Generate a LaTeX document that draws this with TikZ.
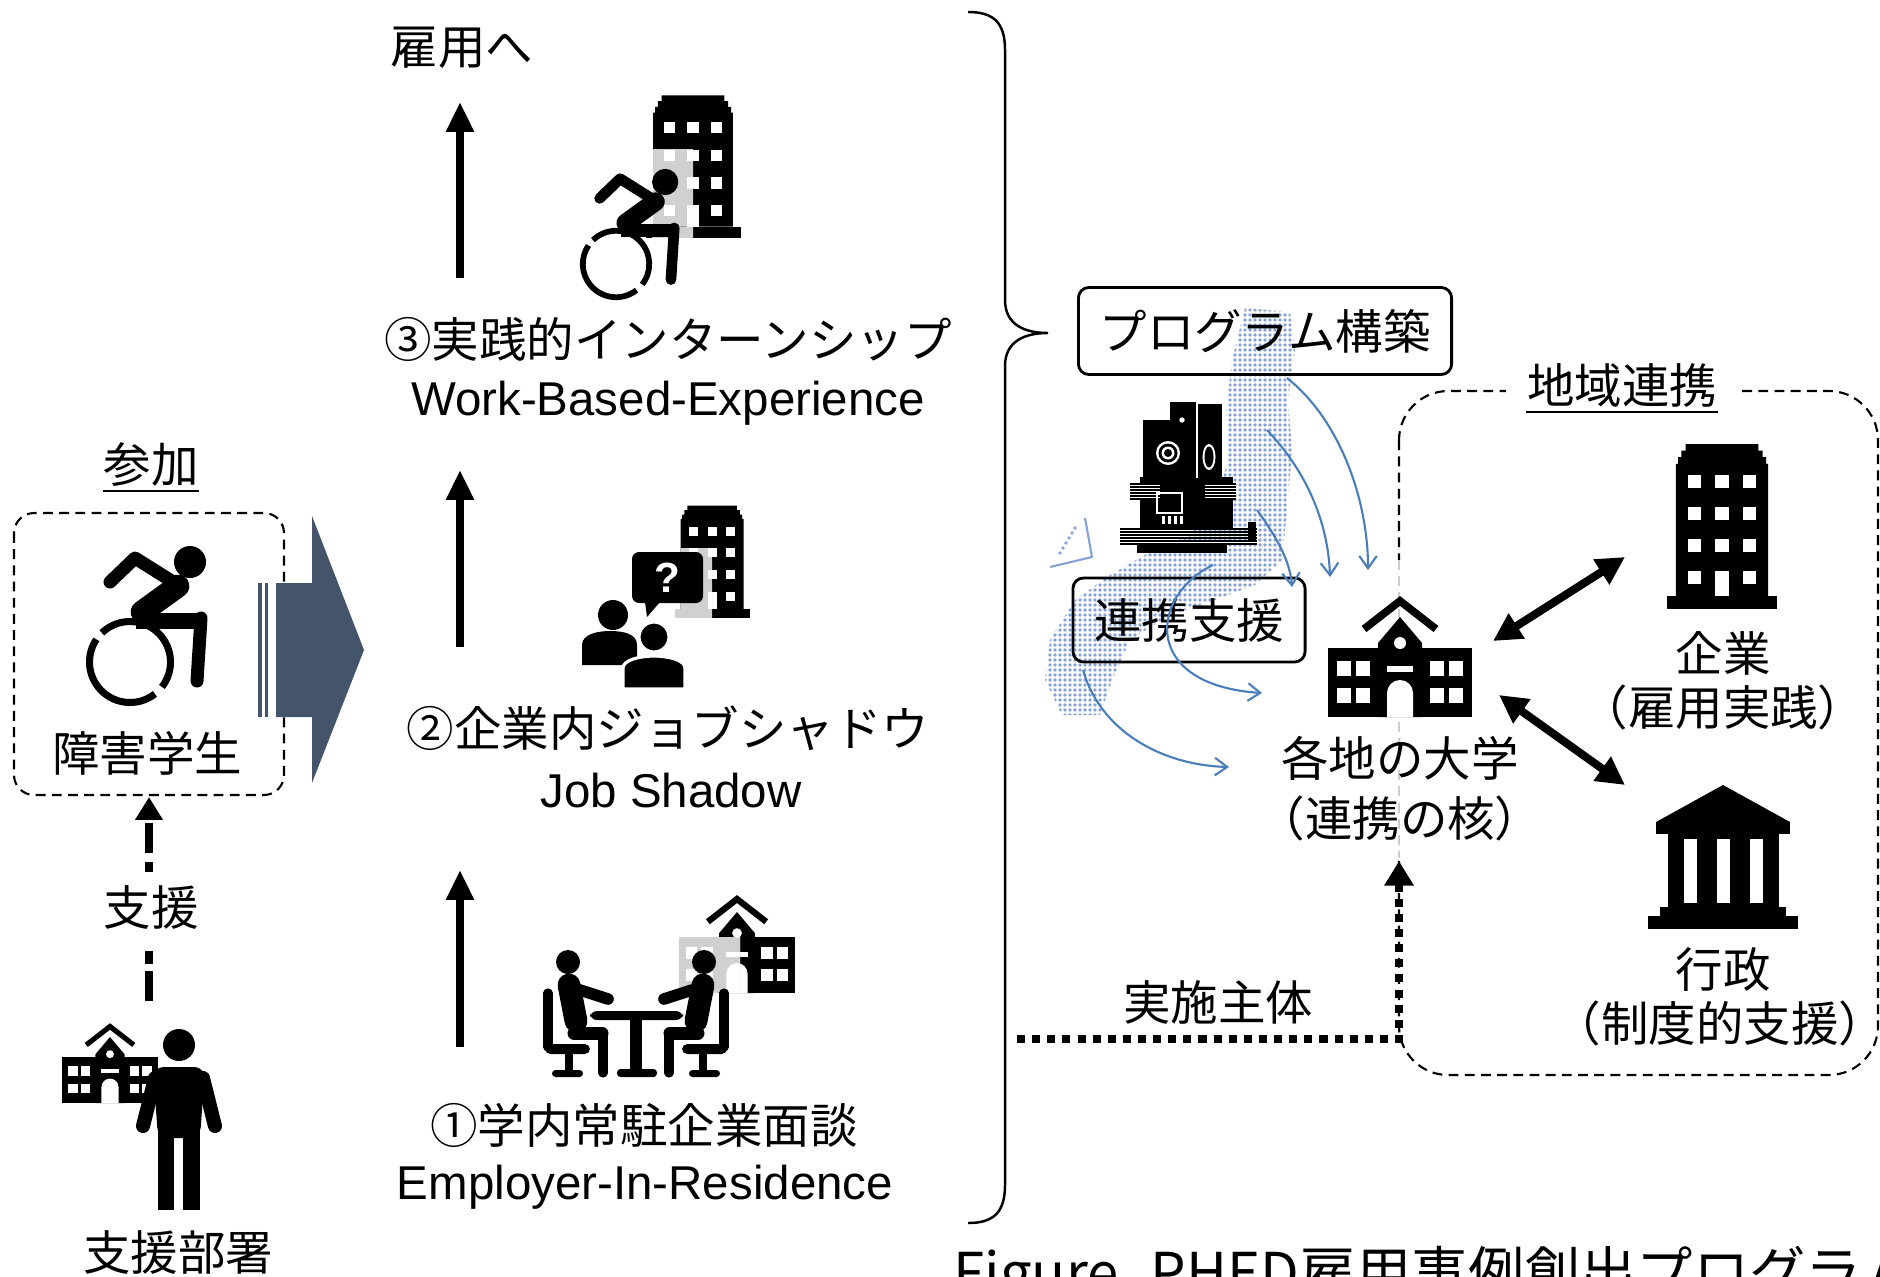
\documentclass[tikz,border=0pt]{standalone}
\usepackage{fontspec}
\setmainfont{Liberation Sans}
\newfontfamily\jp{Noto Sans CJK JP}[RawFeature={+halt}]
\usetikzlibrary{arrows.meta}

\definecolor{slate}{HTML}{44546A}
\definecolor{mapdot}{HTML}{86A1D8}
\definecolor{linkblue}{HTML}{4A7EBB}
\definecolor{shade}{HTML}{D0D0D0}
\colorlet{bodycol}{black}

% icons, drawn in pixel units, the argument scales them
\tikzset{
	pics/wheelchair/.style={code={
		\begin{scope}[scale=#1]
			\draw[line width=#1*2pt] (52:40.5) arc[start angle=52, end angle=214, radius=40.5];
			\draw[line width=#1*2pt] (226:40.5) arc[start angle=226, end angle=398, radius=40.5];
			\fill (60,-100) circle (16);
			\draw[line width=#1*3.7pt, line cap=round, line join=round] (-20,-80) -- (5,-104) -- (48,-77);
			\draw[line width=#1*6.5pt, line cap=round] (48,-76) -- (12,-50);
			\draw[line width=#1*4.5pt] (6,-41) -- (74,-41);
			\draw[line width=#1*3.7pt, line cap=round] (71,-44) -- (67,19);
		\end{scope}}},
	pics/office/.style={code={
		\begin{scope}[scale=#1]
			\fill[bodycol] (-50,-12) rectangle (50,0);
			\fill[bodycol] (-42,-12) -- (-42,-132) -- (-40,-132) -- (-40,-138) -- (-37,-138)
				-- (-37,-144) -- (-33,-144) -- (-33,-150) -- (33,-150) -- (33,-144) -- (37,-144)
				-- (37,-138) -- (40,-138) -- (40,-132) -- (42,-132) -- (42,-12) -- cycle;
			\foreach \wx in {-25,0,25}
				\foreach \wy in {-116,-87,-58}
					\fill[white] (\wx-6,\wy-6) rectangle (\wx+6,\wy+6);
			\foreach \wx in {-25,25}
				\fill[white] (\wx-6,-35) rectangle (\wx+6,-23);
			\fill[white] (-6,-35) rectangle (6,-12);
		\end{scope}}},
	pics/school/.style={code={
		\begin{scope}[scale=#1]
			\fill[bodycol] (-72,-69) rectangle (72,0);
			\fill[bodycol] (-22,0) -- (-22,-74) -- (0,-100) -- (22,-74) -- (22,0) -- cycle;
			\draw[bodycol, line width=#1*2.2pt] (-36,-88) -- (0,-116) -- (36,-88);
			\foreach \wx in {-56,-37,37,56}
				\foreach \wy in {-49,-22}
					\fill[white] (\wx-7,\wy-7.5) rectangle (\wx+7,\wy+7.5);
			\fill[white] (0,-74) circle (6);
			\fill[white] (-13,-51) rectangle (13,-45);
			\fill[white] (-13,0) -- (-13,-24) arc[start angle=180, end angle=360, radius=13] -- (13,0) -- cycle;
		\end{scope}}},
	pics/person/.style={code={
		\begin{scope}[scale=#1]
			\fill (0,-165) circle (16);
			\fill[rounded corners=#1*3pt] (-21,-72) -- (-26,-143) -- (26,-143) -- (21,-72) -- cycle;
			\draw[line width=#1*4pt, line cap=round] (-24,-132) -- (-36,-84);
			\draw[line width=#1*4pt, line cap=round] (24,-132) -- (36,-84);
			\fill (-21,-80) rectangle (-5,0);
			\fill (4,-80) rectangle (21,0);
		\end{scope}}},
}

\begin{document}
\begin{tikzpicture}[x=0.01cm, y=-0.01cm,
		jtext/.style={inner sep=0pt, font=\jp\fontsize{13.5pt}{16pt}\selectfont},
		etext/.style={inner sep=0pt, font=\fontsize{13.5pt}{16pt}\selectfont},
		tagbox/.style={jtext, draw, line width=0.8pt, rounded corners=3pt},
		dashbox/.style={line width=0.6pt, dash pattern=on 2.8pt off 1.8pt, rounded corners=#1},
		stepup/.style={line width=2.5pt, -{Triangle[length=8.5pt, width=7.5pt]}},
		helpline/.style={line width=2.5pt, dash pattern=on 8.5pt off 2pt on 3.7pt off 2pt},
		helpup/.style={line width=2.5pt, dash pattern=on 2.8pt off 2.5pt on 8.5pt off 2.5pt,
			-{Triangle[length=6.5pt, width=7.5pt]}},
		runline/.style={line width=2.3pt, dash pattern=on 2.3pt off 2pt,
			-{Triangle[length=7pt, width=8pt]}},
		linkboth/.style={line width=2.3pt, {Triangle[length=8pt, width=8pt]}-{Triangle[length=8pt, width=8pt]}},
		spread/.style={linkblue, line width=0.6pt, -{Straight Barb[length=3.5pt, width=5pt]}}]

	\useasboundingbox (0,0) rectangle (1880,1276);
	\clip (0,0) rectangle (1880,1276);

	% participant
	\draw[dashbox=5.7pt] (14,513) rectangle (284,795);
	\node[jtext] (sanka) at (151,465) {参加};
	\draw[line width=0.6pt] ([yshift=-1pt]sanka.south west) -- ([yshift=-1pt]sanka.south east);
	\pic at (130,662) {wheelchair=1};
	\node[jtext] (student) at (147,753) {障害学生};

	% block arrow into the program
	\fill[slate] (258,583) rectangle (262,717);
	\fill[slate] (265,583) rectangle (268,717);
	\fill[slate] (276,583) -- (312,583) -- (312,516) -- (364,650) -- (312,783) -- (312,717) -- (276,717) -- cycle;

	% support office
	\pic at (110,1103) {school=0.66};
	\pic at (179,1210) {person=1};
	\node[jtext] (dept) at (178,1253) {支援部署};
	\node[jtext] (shien) at (151,908) {支援};
	\coordinate (deptTop) at (149,1001);
	\coordinate (helpLow) at (149,950);
	\coordinate (helpUp) at (149,872);
	\coordinate (boxBot) at (149,797);
	\draw[helpline] (deptTop) -- (helpLow);
	\draw[helpup] (helpUp) -- (boxBot);

	% three steps
	\node[jtext] (koyou) at (462,48) {雇用へ};

	\pic at (693,238) {office=0.95};
	\begin{scope}
		\clip (652,150) rectangle (693,245);
		\colorlet{bodycol}{shade}
		\pic at (693,238) {office=0.95};
	\end{scope}
	\pic at (616,264) {wheelchair=0.82};
	\node[jtext] (step3) at (668,339) {③実践的インターンシップ};
	\node[etext] (step3en) at (668,403) {Work-Based-Experience};

	\pic at (712,618) {office=0.75};
	\begin{scope}
		\clip (660,548) rectangle (712,625);
		\colorlet{bodycol}{shade}
		\pic at (712,618) {office=0.75};
	\end{scope}
	\fill[rounded corners=2pt] (632,552) rectangle (703,603);
	\fill (645,602) -- (647,617) -- (660,602) -- cycle;
	\node[text=white, inner sep=0pt, font=\bfseries\fontsize{12pt}{14pt}\selectfont] (ask) at (667,578) {?};
	\fill (613,615) circle (15);
	\fill (582,665) -- (582,645) .. controls (582,634) and (598,631) .. (610,631)
		.. controls (624,631) and (637,634) .. (637,645) -- (637,665) -- cycle;
	\filldraw[draw=white, line width=0.9pt] (654,637) circle (15);
	\filldraw[draw=white, line width=0.9pt] (623,689) -- (623,668) .. controls (623,660) and (640,656) .. (654,656)
		.. controls (668,656) and (685,660) .. (685,668) -- (685,689) -- cycle;
	\node[jtext] (step2) at (668,728) {②企業内ジョブシャドウ};
	\node[etext] (step2en) at (671,791) {Job Shadow};

	\pic at (737,993) {school=0.81};
	\begin{scope}
		\clip (670,937) rectangle (740,1000);
		\colorlet{bodycol}{shade}
		\pic at (737,993) {school=0.81};
	\end{scope}
	\begin{scope}[shift={(636,1077)}]
		\foreach \side in {1,-1} {
			\begin{scope}[xscale=\side]
				\fill (-68,-115) circle (12);
				\draw[line width=6.5pt, line cap=round] (-67,-92) -- (-60,-56);
				\draw[line width=3.3pt, line cap=round] (-56,-87) -- (-28,-78);
				\draw[line width=3.7pt, line cap=round] (-62,-44) -- (-34,-44);
				\draw[line width=2.6pt, line cap=round] (-33,-44) -- (-33,-4);
				\draw[line width=2.6pt, line cap=round] (-88,-84) -- (-88,-30);
				\fill[rounded corners=1.5pt] (-91,-33) rectangle (-46,-23);
				\fill (-71,-24) rectangle (-63,-6);
				\fill[rounded corners=1pt] (-84,-7) rectangle (-53,0);
			\end{scope}
		}
		\fill[rounded corners=2pt] (-46,-66) rectangle (47,-57);
		\fill (-6,-58) rectangle (6,-6);
		\fill[rounded corners=1pt] (-19,-8) rectangle (21,0);
	\end{scope}
	\node[jtext] (step1) at (644,1125) {①学内常駐企業面談};
	\node[etext] (step1en) at (645,1187) {Employer-In-Residence};

	\coordinate (a3top) at (460,102);  \coordinate (a3bot) at (460,278);
	\coordinate (a2top) at (460,470);  \coordinate (a2bot) at (460,647);
	\coordinate (a1top) at (460,870);  \coordinate (a1bot) at (460,1047);
	\draw[stepup] (a3bot) -- (a3top);
	\draw[stepup] (a2bot) -- (a2top);
	\draw[stepup] (a1bot) -- (a1top);

	% brace
	\coordinate (brTop) at (968,12);
	\draw[line width=0.7pt] (brTop) .. controls (993,12) and (1005,22) .. (1005,50) -- (1005,300)
		.. controls (1005,325) and (1025,333) .. (1048,333)
		.. controls (1025,333) and (1005,341) .. (1005,366) -- (1005,1185)
		.. controls (1005,1213) and (993,1223) .. (968,1223);

	% dotted map
	\begin{scope}
		\clip (1245,308) -- (1290,312) -- (1295,350) -- (1288,400) -- (1292,450) -- (1287,510)
			-- (1282,560) -- (1255,585) -- (1215,600) -- (1170,615) -- (1130,640) -- (1112,680)
			-- (1100,715) -- (1062,715) -- (1045,680) -- (1050,640) -- (1075,600) -- (1110,575)
			-- (1150,552) -- (1190,535) -- (1215,505) -- (1228,460) -- (1226,410) -- (1232,360) -- cycle;
		\foreach \my in {305,310,...,720}
			\fill[mapdot] \foreach \mx in {1040,1045,...,1295} {(\mx,\my) circle (1.9)};
	\end{scope}
	\draw[mapdot, line width=0.6pt] (1050,567) -- (1092,557) -- (1085,518);
	\foreach \k in {0,...,5}
		\fill[mapdot] (1060+3*\k,553-5*\k) circle (1.9);

	% clock tower
	\fill (1143,420) rectangle (1173,480);
	\fill (1170,402) rectangle (1196,480);
	\fill (1198,404) rectangle (1222,480);
	\fill (1140,477) rectangle (1233,530);
	\fill (1137,543) rectangle (1227,553);
	\foreach \cy in {529,532,...,544}
		\draw[line width=0.5pt] (1120,\cy) -- (1257,\cy);
	\fill[white] (1130,483) rectangle (1160,500);
	\fill[white] (1205,483) rectangle (1236,500);
	\foreach \cy in {484,487,...,499} {
		\draw[line width=0.5pt] (1130,\cy) -- (1160,\cy);
		\draw[line width=0.5pt] (1205,\cy) -- (1236,\cy);
	}
	\fill[white] (1168,453) circle (12);
	\fill (1168,453) circle (9.5);
	\fill[white] (1168,453) circle (6.5);
	\fill (1168,453) circle (4);
	\fill[white] (1209,457) ellipse [x radius=6.5, y radius=13];
	\fill (1209,457) ellipse [x radius=4.5, y radius=10.5];
	\fill[white] (1182,420) circle (2.7);
	\draw[white, line width=0.6pt] (1197,404) -- (1197,478);
	\draw[white, line width=0.8pt] (1157,493) rectangle (1182,513);
	\foreach \wx in {1162,1168,1174,1180}
		\fill[white] (\wx,516) rectangle (\wx+3,524);
	\fill (1248,522) rectangle (1256,540);

	\node[tagbox, minimum width=3.73cm, minimum height=0.87cm] (plan) at (1265,331) {プログラム構築};
	\node[tagbox, minimum width=2.32cm, minimum height=0.84cm] (assist) at (1189,620) {連携支援};

	\coordinate (m1s) at (1287,378); \coordinate (m1e) at (1368,570);
	\coordinate (m2s) at (1267,430); \coordinate (m2e) at (1330,577);
	\coordinate (m3s) at (1257,510); \coordinate (m3e) at (1292,587);
	\coordinate (m4s) at (1213,565); \coordinate (m4e) at (1262,693);
	\coordinate (m5s) at (1083,670); \coordinate (m5e) at (1229,767);
	\draw[spread] (m1s) .. controls (1340,420) and (1368,500) .. (m1e);
	\draw[spread] (m2s) .. controls (1305,470) and (1328,520) .. (m2e);
	\draw[spread] (m3s) .. controls (1275,535) and (1290,560) .. (m3e);
	\draw[spread] (m4s) .. controls (1150,595) and (1140,685) .. (m4e);
	\draw[spread] (m5s) .. controls (1100,730) and (1160,765) .. (m5e);

	% regional network
	\draw[dashbox=14pt] (1399,391) rectangle (1878,1075);
	\draw[white, line width=1pt] (1399,560) -- (1399,858);
	\draw[gray!40, line width=0.6pt, dash pattern=on 2.8pt off 1.8pt] (1399,560) -- (1399,858);
	\node[jtext, fill=white, inner xsep=6pt] (chiiki) at (1622,386) {地域連携};
	\draw[line width=0.6pt] ([xshift=6pt,yshift=-1pt]chiiki.south west) -- ([xshift=-6pt,yshift=-1pt]chiiki.south east);

	\pic at (1400,717) {school=1};
	\node[jtext] (univ) at (1400,758) {各地の大学};
	\node[jtext] (core) at (1400,818) {（連携の核）};

	\pic at (1722,609) {office=1.1};
	\node[jtext] (corp) at (1723,653) {企業};
	\node[jtext] (corpsub) at (1723,707) {（雇用実践）};

	\begin{scope}[shift={(1723,929)}]
		\fill (0,-144) -- (67,-107) -- (-67,-107) -- cycle;
		\fill (-67,-107) rectangle (67,-95);
		\fill (-55,-95) rectangle (56,-22);
		\foreach \gx in {-33,0,33}
			\fill[white] (\gx-6.5,-90) rectangle (\gx+6.5,-26);
		\fill (-63,-22) rectangle (63,-13);
		\fill (-75,-13) rectangle (75,0);
	\end{scope}
	\node[jtext] (gov) at (1723,969) {行政};
	\node[jtext] (govsub) at (1720,1023) {（制度的支援）};

	\coordinate (uc1) at (1493,641); \coordinate (co1) at (1625,557);
	\coordinate (uc2) at (1499,695); \coordinate (go1) at (1625,785);
	\draw[linkboth] (uc1) -- (co1);
	\draw[linkboth] (uc2) -- (go1);

	% implementing body
	\coordinate (runStart) at (1017,1039);
	\coordinate (runEnd) at (1399,861);
	\draw[runline] (runStart) -| (runEnd);
	\node[jtext] (jisshi) at (1218,1002) {実施主体};

	\node[jtext, anchor=north west, font=\jp\fontsize{16pt}{19pt}\selectfont] (caption) at (953,1246)
		{Figure. PHED雇用事例創出プログラム};
\end{tikzpicture}
\end{document}
